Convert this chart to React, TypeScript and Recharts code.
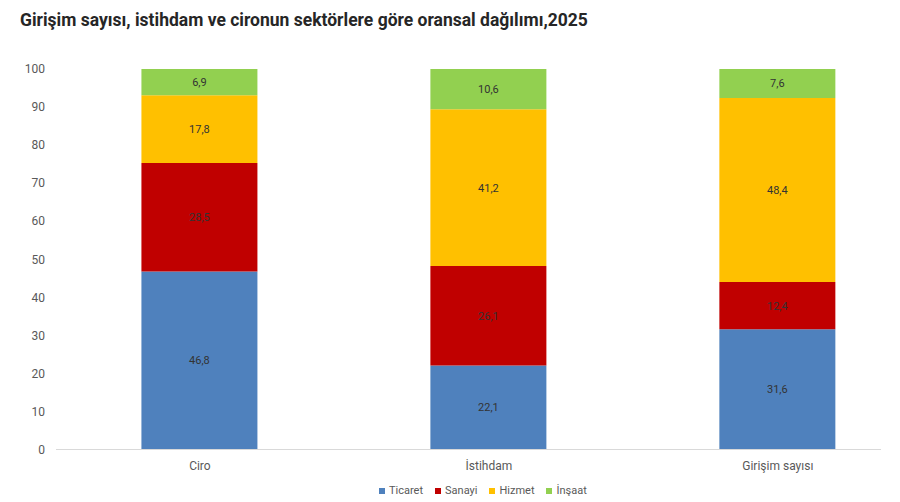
import { BarChart, Bar, XAxis, YAxis, LabelList } from 'recharts'

const categories = ['Ciro', 'İstihdam', 'Girişim sayısı']
const ticaret = [46.8, 22.1, 31.6]
const sanayi = [28.5, 26.1, 12.4]
const hizmet = [17.8, 41.2, 48.4]
const insaat = [6.9, 10.6, 7.6]
const yTicks = [0, 10, 20, 30, 40, 50, 60, 70, 80, 90, 100]

const series = [
  { key: 'ticaret', name: 'Ticaret', color: '#4F81BD', values: ticaret },
  { key: 'sanayi', name: 'Sanayi', color: '#C00000', values: sanayi },
  { key: 'hizmet', name: 'Hizmet', color: '#FFC000', values: hizmet },
  { key: 'insaat', name: 'İnşaat', color: '#92D050', values: insaat },
]

const data = categories.map((name, i) => {
  const row: any = { name, idx: i }
  series.forEach(s => { row[s.key] = s.values[i] })
  return row
})

const fmt = (v: any) => Number(v).toFixed(1).replace('.', ',')
const tickStyle = { fontSize: 12, fill: '#595959', fontFamily: 'Roboto, Arial, sans-serif' }

export default function App() {
  return (
    <div style={{ position: 'absolute', left: 0, top: 0, width: 900, height: 502, background: '#fff', fontFamily: 'Roboto, Arial, sans-serif' }}>
      <div style={{ position: 'absolute', left: 20, top: 10, fontSize: 17.5, fontWeight: 700, color: '#262626', whiteSpace: 'nowrap' }}>
        Girişim sayısı, istihdam ve cironun sektörlere göre oransal dağılımı,2025
      </div>
      <BarChart width={900} height={502} data={data} margin={{ top: 69, right: 19, left: 0, bottom: 22.5 }}>
        <XAxis
          type="number"
          dataKey="idx"
          domain={[-0.498, 2.357]}
          ticks={[0, 1, 2]}
          tickFormatter={(i: number) => categories[i]}
          tick={tickStyle}
          tickLine={false}
          tickMargin={6}
          axisLine={{ stroke: '#D9D9D9' }}
          height={30}
          allowDataOverflow
        />
        <YAxis
          domain={[0, 100]}
          ticks={yTicks}
          tick={tickStyle}
          axisLine={false}
          tickLine={false}
          tickMargin={5}
          width={56}
        />
        {series.map(s => (
          <Bar key={s.key} dataKey={s.key} name={s.name} stackId="a" fill={s.color} barSize={116} isAnimationActive={false}>
            <LabelList dataKey={s.key} position="center" formatter={fmt} style={{ fontSize: 11, fill: '#333', fontFamily: 'Roboto, Arial, sans-serif' }} />
          </Bar>
        ))}
      </BarChart>
      <div style={{ position: 'absolute', left: 379, top: 484, display: 'flex', gap: 12, fontSize: 11, color: '#595959' }}>
        {series.map(s => (
          <div key={s.key} style={{ display: 'flex', alignItems: 'center' }}>
            <span style={{ width: 6, height: 6, background: s.color, marginRight: 4, display: 'inline-block' }} />
            {s.name}
          </div>
        ))}
      </div>
    </div>
  )
}
